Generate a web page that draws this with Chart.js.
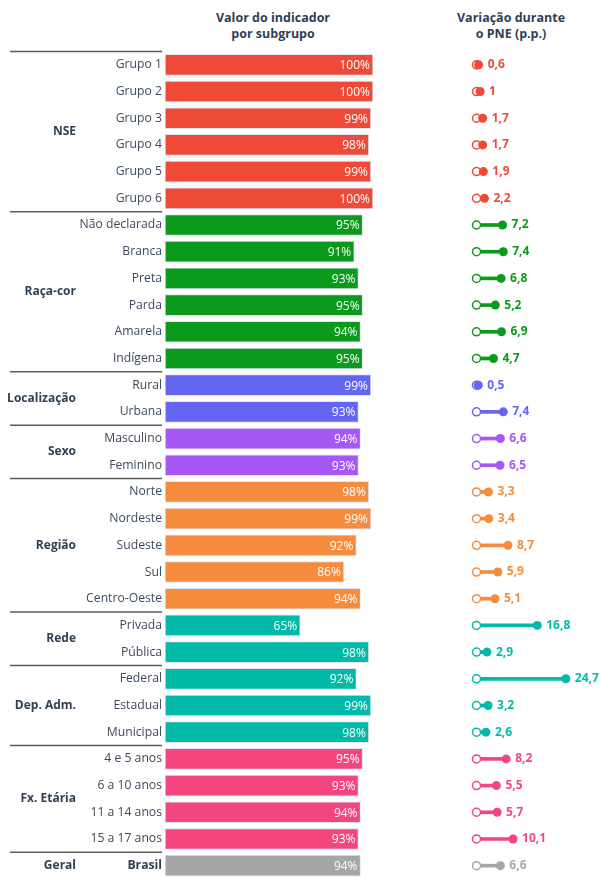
<!DOCTYPE html>
<html>
<head>
<meta charset="utf-8">
<script src="https://cdn.jsdelivr.net/npm/chart.js@4.4.1/dist/chart.umd.min.js"></script>
<style>
    body { margin: 0; background: #fff; font-family: 'Open Sans', sans-serif; overflow: hidden; }
    #wrap { position: relative; width: 601px; height: 878px; overflow: hidden; }
    canvas { position: absolute; top: 0; }
    .head { position: absolute; top: 10px; width: 200px; text-align: center; font-weight: bold; font-size: 12.5px; line-height: 16px; color: #2e3f56; }
</style>
</head>
<body>
<div id="wrap">
    <div class="head" style="left: 173px;">Valor do indicador<br>por subgrupo</div>
    <div class="head" style="left: 411px;">Variação durante<br>o PNE (p.p.)</div>
    <canvas id="barChart" width="400" height="879" style="left: 0;"></canvas>
    <canvas id="dumbChart" width="161" height="879" style="left: 440px;"></canvas>
</div>
<script>
// Data
const categories = [
    'Grupo 1', 'Grupo 2', 'Grupo 3', 'Grupo 4', 'Grupo 5', 'Grupo 6',
    'Não declarada', 'Branca', 'Preta', 'Parda', 'Amarela', 'Indígena',
    'Rural', 'Urbana',
    'Masculino', 'Feminino',
    'Norte', 'Nordeste', 'Sudeste', 'Sul', 'Centro-Oeste',
    'Privada', 'Pública',
    'Federal', 'Estadual', 'Municipal',
    '4 e 5 anos', '6 a 10 anos', '11 a 14 anos', '15 a 17 anos',
    'Brasil'
];
const indicatorValues = [
    100, 100, 99, 98, 99, 100,
    95, 91, 93, 95, 94, 95,
    99, 93,
    94, 93,
    98, 99, 92, 86, 94,
    65, 98,
    92, 99, 98,
    95, 93, 94, 93,
    94
];
const variationValues = [
    0.6, 1, 1.7, 1.7, 1.9, 2.2,
    7.2, 7.4, 6.8, 5.2, 6.9, 4.7,
    0.5, 7.4,
    6.6, 6.5,
    3.3, 3.4, 8.7, 5.9, 5.1,
    16.8, 2.9,
    24.7, 3.2, 2.6,
    8.2, 5.5, 5.7, 10.1,
    6.6
];
const groupNames = ['NSE', 'Raça-cor', 'Localização', 'Sexo', 'Região', 'Rede', 'Dep. Adm.', 'Fx. Etária', 'Geral'];
const groupSizes = [6, 6, 2, 2, 5, 2, 3, 4, 1];

// Styles
const groupColors = ['#ef4a37', '#0b9a1c', '#6466f1', '#a757f4', '#f58b3c', '#03b9a8', '#03b9a8', '#f2467d', '#a6a6a6'];
const rowColors = [];
groupSizes.forEach((n, g) => { for (let i = 0; i < n; i++) rowColors.push(groupColors[g]); });
const FONT = "'Open Sans', sans-serif";
const textColor = '#3c4a5e';
const lastIndex = categories.length - 1;

// no label padding on the y axis, rows fill the chart area exactly
function fitRows(scale, width) {
    scale.width = width;
    scale.paddingTop = 0;
    scale.paddingBottom = 0;
}

// group labels + separator lines on the left
const groupPlugin = {
    id: 'groupPlugin',
    afterDraw(chart) {
        const ctx = chart.ctx;
        const y = chart.scales.y;
        const step = y.getPixelForValue(1) - y.getPixelForValue(0);
        let start = 0;
        ctx.save();
        groupSizes.forEach((n, g) => {
            const top = y.getPixelForValue(start) - step / 2;
            ctx.strokeStyle = '#5a5a5a';
            ctx.lineWidth = 1.5;
            ctx.beginPath();
            ctx.moveTo(10, top);
            ctx.lineTo(162, top);
            ctx.stroke();
            const mid = (y.getPixelForValue(start) + y.getPixelForValue(start + n - 1)) / 2;
            ctx.fillStyle = '#2e3f56';
            ctx.font = 'bold 12px ' + FONT;
            ctx.textAlign = 'right';
            ctx.textBaseline = 'middle';
            ctx.fillText(groupNames[g], 76, mid);
            start += n;
        });
        ctx.restore();
    }
};

// percent labels inside bar ends
const barLabelPlugin = {
    id: 'barLabelPlugin',
    afterDatasetsDraw(chart) {
        const ctx = chart.ctx;
        const meta = chart.getDatasetMeta(0);
        ctx.save();
        ctx.font = '12px ' + FONT;
        ctx.textAlign = 'right';
        ctx.textBaseline = 'middle';
        ctx.fillStyle = '#ffffff';
        meta.data.forEach((bar, i) => {
            ctx.fillText(indicatorValues[i] + '%', bar.x - 3, bar.y + 1);
        });
        ctx.restore();
    }
};

new Chart(document.getElementById('barChart'), {
    type: 'bar',
    data: {
        labels: categories,
        datasets: [{
            data: indicatorValues,
            backgroundColor: rowColors,
            borderColor: '#dfe5f2',
            borderWidth: 1,
            borderSkipped: false,
            barThickness: 21
        }]
    },
    options: {
        indexAxis: 'y',
        responsive: false,
        animation: false,
        devicePixelRatio: 1,
        layout: { autoPadding: false, padding: { top: 51.5, bottom: 0, left: 0, right: 27 } },
        plugins: { legend: { display: false }, tooltip: { enabled: false } },
        scales: {
            x: { display: false, min: 0, max: 100 },
            y: {
                afterFit: scale => fitRows(scale, 165),
                grid: { display: false, drawTicks: false },
                border: { display: false },
                ticks: {
                    padding: 3,
                    color: ctx => ctx.index === lastIndex ? '#2e3f56' : textColor,
                    font: ctx => ({ family: FONT, size: 12.2, weight: ctx.index === lastIndex ? 'bold' : 'normal' })
                }
            }
        }
    },
    plugins: [groupPlugin, barLabelPlugin]
});

// value labels after the dumbbell end
const dumbLabelPlugin = {
    id: 'dumbLabelPlugin',
    afterDatasetsDraw(chart) {
        const ctx = chart.ctx;
        const meta = chart.getDatasetMeta(2);
        ctx.save();
        ctx.font = 'bold 12px ' + FONT;
        ctx.textAlign = 'left';
        ctx.textBaseline = 'middle';
        meta.data.forEach((pt, i) => {
            ctx.fillStyle = rowColors[i];
            ctx.fillText(String(variationValues[i]).replace('.', ','), pt.x + 9, pt.y);
        });
        ctx.restore();
    }
};

new Chart(document.getElementById('dumbChart'), {
    type: 'bar',
    data: {
        labels: categories,
        datasets: [
            {
                type: 'bar',
                data: variationValues.map(v => [0, v]),
                backgroundColor: rowColors,
                barThickness: 3,
                clip: false,
                order: 3
            },
            {
                type: 'line',
                data: categories.map(() => 0),
                showLine: false,
                pointRadius: 4,
                pointBorderWidth: 1.5,
                pointBackgroundColor: '#ffffff',
                pointBorderColor: rowColors,
                clip: false,
                order: 2
            },
            {
                type: 'line',
                data: variationValues,
                showLine: false,
                pointRadius: 4.5,
                pointBorderWidth: 0,
                pointBackgroundColor: rowColors,
                pointBorderColor: rowColors,
                clip: false,
                order: 1
            }
        ]
    },
    options: {
        indexAxis: 'y',
        responsive: false,
        animation: false,
        devicePixelRatio: 1,
        layout: { autoPadding: false, padding: { top: 51.5, bottom: 0, left: 36.5, right: 16 } },
        plugins: { legend: { display: false }, tooltip: { enabled: false } },
        scales: {
            x: { display: false, min: 0, max: 30 },
            y: { display: false, afterFit: scale => fitRows(scale, 0) }
        }
    },
    plugins: [dumbLabelPlugin]
});
</script>
</body>
</html>
